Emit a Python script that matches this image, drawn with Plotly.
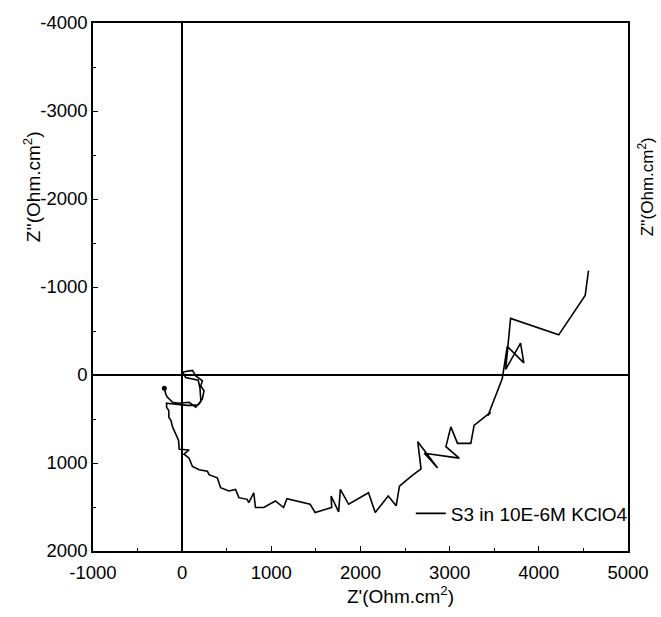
import plotly.graph_objects as go

z_real = [-200, -182, -164, -108, -33, 78, 153, 227, 245, 208, 227, 153, 115, 4, 40, 180,
          200, 210, 180, 60, -100, -175, -175, -150, -150, -126, -108, -70, -41, -33, 78, 20,
          78, 115, 190, 283, 301, 394, 431, 524, 599, 636, 729, 747, 803, 822, 915, 1045,
          1137, 1175, 1268, 1435, 1491, 1677, 1670, 1755, 1774, 1867, 2090, 2165, 2311,
          2400, 2437, 2567, 2679, 2642, 2865, 2716, 3107, 2958, 3013, 3088, 3237, 3274,
          3460, 3430, 3590, 3646, 3832, 3795, 3628, 3683, 4223, 4520, 4557]
z_imag = [150, 224, 254, 310, 321, 310, 366, 273, 179, 123, 67, 11, -52, -34, 30, 60,
          150, 300, 340, 345, 330, 320, 366, 404, 480, 516, 590, 665, 740, 844, 852, 900,
          945, 1039, 1076, 1094, 1132, 1169, 1281, 1318, 1300, 1394, 1413, 1450, 1338, 1506,
          1506, 1431, 1506, 1405, 1431, 1469, 1562, 1506, 1375, 1555, 1300, 1469, 1338,
          1562, 1375, 1487, 1263, 1151, 1068, 758, 1057, 889, 945, 814, 590, 777, 777, 572,
          423, 460, 40, -325, -138, -362, -64, -643, -456, -905, -1185]

series_name = "S3 in 10E-6M KClO4"
x_ticks = [-1000, 0, 1000, 2000, 3000, 4000, 5000]
x_tick_text = ["-1000", "0", "1000", "2000", "3000", "4000", "5000"]
y_ticks = [-4000, -3000, -2000, -1000, 0, 1000, 2000]
y_tick_text = ["-4000", "-3000", "-2000", "-1000", "0", "1000", "2000"]

font_family = "Arial, Liberation Sans, sans-serif"

fig = go.Figure()
fig.add_trace(go.Scatter(x=z_real, y=z_imag, mode="lines", name=series_name,
                         line=dict(color="black", width=1.6)))
fig.add_trace(go.Scatter(x=z_real[:1], y=z_imag[:1], mode="markers", showlegend=False,
                         marker=dict(color="black", size=5)))

axis_common = dict(showline=True, linecolor="black", linewidth=1.5, mirror=True,
                   ticks="inside", ticklen=5, tickwidth=1.2, tickcolor="black",
                   showgrid=False, zeroline=True, zerolinecolor="black", zerolinewidth=1.5,
                   tickfont=dict(family=font_family, size=18.5, color="black"),
                   minor=dict(ticks="inside", ticklen=3, tickwidth=1, tickcolor="black", dtick=500))

fig.update_xaxes(range=[-1000, 5000], tickvals=x_ticks, ticktext=x_tick_text,
                 ticklabelstandoff=4, **axis_common)
fig.update_yaxes(range=[2000, -4000], tickvals=y_ticks, ticktext=y_tick_text, **axis_common)

fig.update_layout(
    width=661, height=617,
    margin=dict(l=93, r=30, t=16, b=66),
    plot_bgcolor="white", paper_bgcolor="white",
    font=dict(family=font_family, size=18, color="black"),
    legend=dict(x=0.594, y=0.071, xanchor="left", yanchor="middle",
                bgcolor="rgba(0,0,0,0)", font=dict(size=19, family=font_family),
                itemwidth=30),
    annotations=[
        dict(text="Z'(Ohm.cm<sup>2</sup>)", xref="paper", yref="paper", x=0.574, y=-0.083,
             xanchor="center", yanchor="middle", showarrow=False, font=dict(size=19)),
        dict(text="Z''(Ohm.cm<sup>2</sup>)", xref="paper", x=-0.115, yref="paper", y=0.69,
             textangle=-90, xanchor="center", yanchor="middle", showarrow=False, font=dict(size=19)),
        dict(text="Z''(Ohm.cm<sup>2</sup>)", xref="paper", x=1.033, yref="paper", y=0.69,
             textangle=-90, xanchor="center", yanchor="middle", showarrow=False, font=dict(size=17)),
    ],
)

fig.write_html("out.html", config={"displayModeBar": False},
               post_script="document.body.style.margin='0';document.body.style.overflow='hidden';")
